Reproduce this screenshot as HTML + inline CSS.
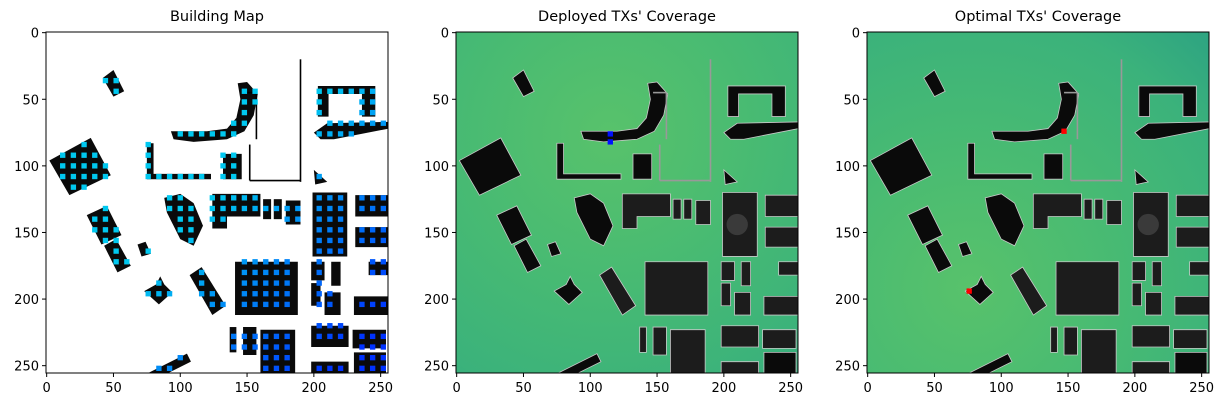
<!DOCTYPE html>
<html><head><meta charset="utf-8"><style>
body{margin:0;background:#fff;width:1224px;height:407px;overflow:hidden;font-family:"DejaVu Sans","Liberation Sans",sans-serif}
svg{position:absolute;left:0;top:0}
</style></head><body>
<svg id="fig" width="1224" height="407"></svg>
<script>
const panelLefts=[46,456,867];
const panelTitles=["Building Map","Deployed TXs' Coverage","Optimal TXs' Coverage"];
const tickValues=[0,50,100,150,200,250];
const buildings=[
[[42,34],[50,28],[58,44],[50,48]],
[[2,96],[33,79],[48,107],[17,122]],
[[30,137],[45,130],[56,152],[41,159]],
[[43,160],[52,155],[63,175],[53,180]],
[[68,159],[74,157],[78,166],[71,168]],
[[73,194],[82,189],[85,183],[88,189],[94,195],[84,204]],
[[93,74],[120,74],[135,72],[142,64],[145,50],[143,38],[150,37],[158,46],[155,62],[148,74],[135,80],[110,82],[95,80]],
[[75,83],[80,83],[80,106],[123,106],[123,110],[75,110]],
[[132,91],[146,91],[146,110],[132,110]],
[[200,75],[210,68],[256,67],[256,72],[215,80],[205,80]],
[[200,103],[210,112],[201,114]],
[[88,124],[100,121],[110,128],[117,145],[110,160],[100,155],[90,135]],
[[124,121],[160,121],[160,138],[135,138],[135,147],[124,147]],
[[162,125],[168,125],[168,140],[162,140]],
[[170,125],[176,125],[176,140],[170,140]],
[[179,126],[190,126],[190,144],[179,144]],
[[199,120],[225,120],[225,168],[199,168]],
[[231,122],[256,122],[256,138],[231,138]],
[[231,146],[256,146],[256,161],[231,161]],
[[107,182],[116,176],[134,205],[124,212]],
[[141,172],[188,172],[188,212],[141,212]],
[[198,172],[208,172],[208,186],[198,186]],
[[213,172],[220,172],[220,190],[213,190]],
[[198,188],[205,188],[205,205],[198,205]],
[[208,195],[220,195],[220,212],[208,212]],
[[241,172],[256,172],[256,182],[241,182]],
[[230,198],[256,198],[256,212],[230,212]],
[[137,221],[142,221],[142,240],[137,240]],
[[147,221],[157,221],[157,242],[147,242]],
[[160,223],[186,223],[186,256],[160,256]],
[[198,220],[226,220],[226,236],[198,236]],
[[229,223],[254,223],[254,237],[229,237]],
[[198,247],[226,247],[226,256],[198,256]],
[[230,240],[254,240],[254,256],[230,256]],
[[75,256],[105,241],[108,247],[90,256]],
[[203,40],[246,40],[246,63],[236,63],[236,46],[211,46],[211,63],[203,63]]
];
const deployedTx=[[115,76],[115,82]];
const optimalTx=[[147,74],[76,194]];
const NS='http://www.w3.org/2000/svg';
const fig=document.getElementById('fig');
const W=342,H=341,TOP=32;
function el(t,a,p){const e=document.createElementNS(NS,t);for(const k in a)e.setAttribute(k,a[k]);(p||fig).appendChild(e);return e;}
function inPoly(x,y,p){let c=false;for(let i=0,j=p.length-1;i<p.length;j=i++){const[xi,yi]=p[i],[xj,yj]=p[j];if((yi>y)!=(yj>y)&&x<(xj-xi)*(y-yi)/(yj-yi)+xi)c=!c;}return c;}
const defs=el('defs',{});
defs.innerHTML='<radialGradient id="cov1" cx="0.45" cy="0.3" r="1"><stop offset="0" stop-color="#58c26b"/><stop offset="0.45" stop-color="#47ba73"/><stop offset="0.8" stop-color="#3bb27b"/><stop offset="1" stop-color="#2fa581"/></radialGradient><radialGradient id="cov2" cx="0.3" cy="0.75" r="1"><stop offset="0" stop-color="#58c26b"/><stop offset="0.45" stop-color="#47ba73"/><stop offset="0.8" stop-color="#3bb27b"/><stop offset="1" stop-color="#2fa581"/></radialGradient>';
panelLefts.forEach((L,pi)=>{
  const g=el('g',{});
  
  
  const t=el('text',{x:L+W/2,y:21,'text-anchor':'middle','font-size':14.5,fill:'#000'},g);
  t.textContent=panelTitles[pi];
  
  
  const inner=el('svg',{x:L,y:TOP,width:W,height:H,viewBox:'-0.5 -0.5 256 256',preserveAspectRatio:'none'},g);
  el('rect',{x:-0.5,y:-0.5,width:256,height:256,fill:pi==0?'#fff':(pi==1?'url(#cov1)':'url(#cov2)')},inner);
  const stroke=pi==0?'none':'#c8c8c8';
  buildings.forEach((b,bi)=>{
    const p=el('polygon',{points:b.map(q=>q.join(',')).join(' '),fill:(pi>0&&bi>=12&&bi<=32)?'#1c1c1c':'#0a0a0a',stroke:stroke,'stroke-width':0.6},inner);
    
    
  });
  [[190,20,190,112],[152,111,190,111],[152,84,152,111],[157,45,157,80],[147,45,157,45]].forEach(l=>{
    el('line',{x1:l[0],y1:l[1],x2:l[2],y2:l[3],stroke:pi==0?'#000':'#999','stroke-width':1.2},inner);
  });
  el('circle',{cx:210,cy:144,r:8,fill:pi==0?'#0a0a0a':'#3a3a3a'},inner);
  if(pi==0){
    for(let y=4;y<256;y+=8)for(let x=4;x<256;x+=8){
      if(buildings.some(b=>inPoly(x,y,b))){
        const f=Math.min(1,Math.max(0,(x+y-250)/220));
        const c='rgb(0,'+Math.round(200-150*f)+','+Math.round(240+15*f)+')';
        const d=el('rect',{x:x-2,y:y-2,width:4,height:4,fill:c},inner);
        
        
      }
    }
  }
  const tx=pi==1?deployedTx:pi==2?optimalTx:[];
  tx.forEach(p=>{
    const m=el('rect',{x:p[0]-2,y:p[1]-2,width:4,height:4,fill:pi==1?'#0010ff':'#ff0000'},inner);
    
    
  });
  el('rect',{x:L,y:TOP,width:W,height:H,fill:'none',stroke:'#000','stroke-width':1},g);
  const sx=v=>L+(v+0.5)*W/256, sy=v=>TOP+(v+0.5)*H/256;
  tickValues.forEach(v=>{
    el('line',{x1:sx(v),y1:TOP+H,x2:sx(v),y2:TOP+H+4,stroke:'#000'},g);
    const tx=el('text',{x:sx(v),y:TOP+H+19,'text-anchor':'middle','font-size':13,fill:'#000'},g);
    tx.textContent=v;
    
    
    el('line',{x1:L-4,y1:sy(v),x2:L,y2:sy(v),stroke:'#000'},g);
    const ty=el('text',{x:L-7,y:sy(v)+5,'text-anchor':'end','font-size':13,fill:'#000'},g);
    ty.textContent=v;
    
    
  });
});
</script></body></html>
